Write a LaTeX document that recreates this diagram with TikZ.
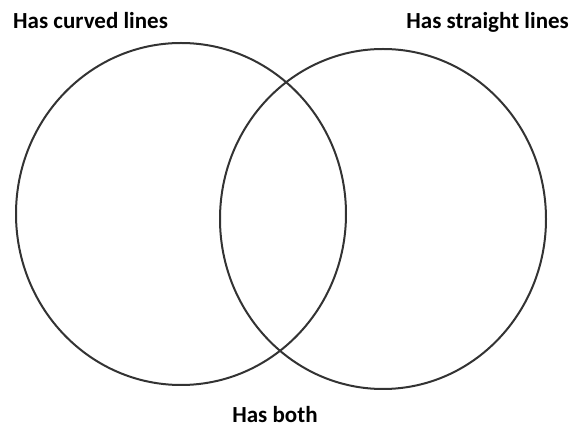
\documentclass[tikz,border=0pt]{standalone}
\usepackage{fontspec}
\setmainfont{Carlito}
\usetikzlibrary{shapes.geometric}
\tikzset{
  setring/.style={draw=black!80, line width=2pt, ellipse, inner sep=0pt},
  setlabel/.style={font=\fontsize{23}{26}\selectfont\bfseries, inner sep=0pt}
}
\begin{document}
\begin{tikzpicture}[x=1pt, y=1pt, line join=round, line cap=round]
	\useasboundingbox (0,0) rectangle (579,428);
	% the two sets
	\node[setring, minimum width=330pt, minimum height=342pt] (curved) at (181,214) {};
	\node[setring, minimum width=326pt, minimum height=340pt] (straight) at (383,209) {};
	% labels
	\node[setlabel, anchor=base west] (curvedlbl) at (13,399) {Has curved lines};
	\node[setlabel, anchor=base east] (straightlbl) at (569,399) {Has straight lines};
	\node[setlabel, anchor=base] (bothlbl) at (275,5) {Has both};
\end{tikzpicture}
\end{document}
